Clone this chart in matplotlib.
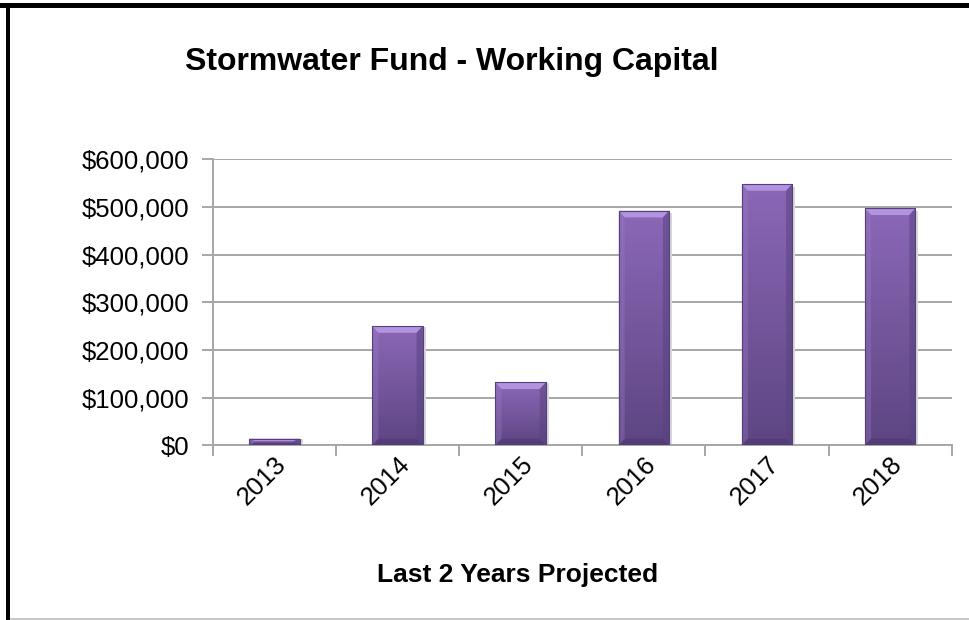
import numpy as np
import matplotlib.pyplot as plt
from matplotlib.patches import Polygon, Rectangle
from matplotlib.ticker import FuncFormatter, FixedLocator

plt.rcParams['font.family'] = ['Liberation Sans', 'DejaVu Sans']

years = ['2013', '2014', '2015', '2016', '2017', '2018']
capital = [14000, 250000, 132000, 492000, 548000, 497000]

title = 'Stormwater Fund - Working Capital'
xlabel = 'Last 2 Years Projected'

fig = plt.figure(figsize=(9.69, 6.2), dpi=100)
ax = fig.add_axes([0.2195, 0.2818, 0.7627, 0.4613])

x = np.arange(len(years))
width = 0.41
ax.set_xlim(-0.5, len(years) - 0.5)
ax.set_ylim(0, 600000)

# vertical purple gradient used for every bar
grad = np.linspace(0, 1, 256).reshape(-1, 1)
top_c = np.array([0x8c, 0x68, 0xb8]) / 255
bot_c = np.array([0x5d, 0x45, 0x82]) / 255

bx = 0.05      # bevel width in x data units
by = 14000     # bevel height in y data units

bars = ax.bar(x, capital, width=width, color='none', zorder=3)
for rect, v in zip(bars, capital):
    x0 = rect.get_x()
    x1 = x0 + rect.get_width()
    # soft shadow to the right
    ax.add_patch(Rectangle((x1, 0), 0.025, v * 0.99, color='#d8d8d8', lw=0, zorder=2))
    img = bot_c + (top_c - bot_c) * grad
    im = ax.imshow(img[:, None, :].repeat(2, axis=1), extent=(x0, x1, 0, v),
                   origin='lower', aspect='auto', zorder=3, interpolation='bilinear')
    im.set_clip_path(rect)
    b = min(by, v / 2.5)
    bxx = min(bx, width / 4)
    # bevels: light top, darker sides and bottom
    ax.add_patch(Polygon([(x0, v), (x1, v), (x1 - bxx, v - b), (x0 + bxx, v - b)],
                         closed=True, color='#b193de', lw=0, zorder=4))
    ax.add_patch(Polygon([(x1, v), (x1, 0), (x1 - bxx, b), (x1 - bxx, v - b)],
                         closed=True, color='#5a4280', alpha=0.55, lw=0, zorder=4))
    ax.add_patch(Polygon([(x0, v), (x0, 0), (x0 + bxx, b), (x0 + bxx, v - b)],
                         closed=True, color='#9a7cc4', alpha=0.35, lw=0, zorder=4))
    ax.add_patch(Polygon([(x0, 0), (x1, 0), (x1 - bxx, b), (x0 + bxx, b)],
                         closed=True, color='#4a3670', alpha=0.5, lw=0, zorder=4))
    ax.add_patch(Rectangle((x0, 0), x1 - x0, v, fill=False, ec='#54407a', lw=0.8, zorder=5))

ax.yaxis.set_major_locator(FixedLocator(np.arange(0, 600001, 100000)))
ax.yaxis.set_major_formatter(FuncFormatter(lambda v, p: '${:,.0f}'.format(v)))
ax.grid(axis='y', color='#a6a6a6', lw=1.4, zorder=1)
ax.set_axisbelow(True)

# category ticks sit between bars, labels sit under bars
ax.set_xticks(np.arange(-0.5, len(years), 1.0))
ax.set_xticklabels([])
ax.set_xticks(x, minor=True)
ax.set_xticklabels(years, minor=True, rotation=45, ha='right', va='top',
                   rotation_mode='anchor', fontsize=18.5)
ax.tick_params(axis='x', which='minor', length=0, pad=5)
ax.tick_params(axis='x', which='major', length=8, width=1.4, color='#a6a6a6', direction='out')
ax.tick_params(axis='y', length=8, width=1.4, color='#a6a6a6', labelsize=18.5, pad=9)

for s in ['top', 'right']:
    ax.spines[s].set_visible(False)
for s in ['left', 'bottom']:
    ax.spines[s].set_color('#a6a6a6')
    ax.spines[s].set_linewidth(1.4)

fig.text(0.466, 0.9, title, ha='center', va='center', fontsize=23, fontweight='bold')
fig.text(0.534, 0.073, xlabel, ha='center', va='center', fontsize=19, fontweight='bold')

# outer frame: heavy black on top and left, faint grey along the bottom
fig.add_artist(Rectangle((0, 1 - 8 / 620), 1, 5 / 620, transform=fig.transFigure, color='black', lw=0))
fig.add_artist(Rectangle((6 / 969, 0), 4 / 969, 1 - 3 / 620, transform=fig.transFigure, color='black', lw=0))
fig.add_artist(Rectangle((10 / 969, 0), 1, 2 / 620, transform=fig.transFigure, color='#c8c8c8', lw=0))

fig.savefig('out.png', dpi=100)
